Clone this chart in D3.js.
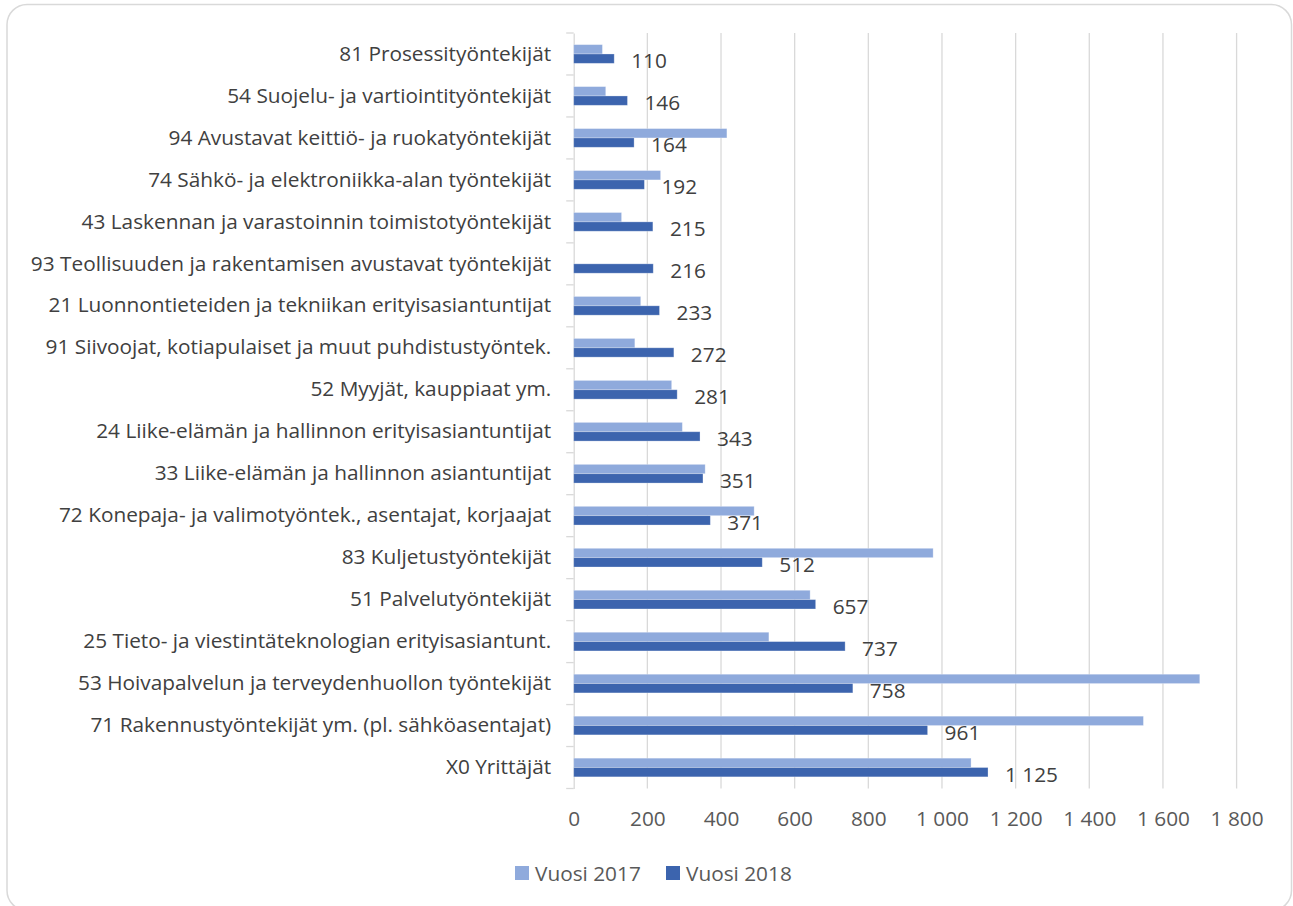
<!DOCTYPE html>
<html>
<head>
<meta charset="utf-8">
<script src="https://cdn.jsdelivr.net/npm/d3@7/dist/d3.min.js"></script>
<style>
  html, body { margin: 0; padding: 0; background: #fff; }
  svg { display: block; }
  text { font-family: "Open Sans", "Noto Sans", sans-serif; }
</style>
</head>
<body>
<svg id="chart" width="1293" height="906"></svg>
<script>
const categories = [
  "81 Prosessityöntekijät",
  "54 Suojelu- ja vartiointityöntekijät",
  "94 Avustavat keittiö- ja ruokatyöntekijät",
  "74 Sähkö- ja elektroniikka-alan työntekijät",
  "43 Laskennan ja varastoinnin toimistotyöntekijät",
  "93 Teollisuuden ja rakentamisen avustavat työntekijät",
  "21 Luonnontieteiden ja tekniikan erityisasiantuntijat",
  "91 Siivoojat, kotiapulaiset ja muut puhdistustyöntek.",
  "52 Myyjät, kauppiaat ym.",
  "24 Liike-elämän ja hallinnon erityisasiantuntijat",
  "33 Liike-elämän ja hallinnon asiantuntijat",
  "72 Konepaja- ja valimotyöntek., asentajat, korjaajat",
  "83 Kuljetustyöntekijät",
  "51 Palvelutyöntekijät",
  "25 Tieto- ja viestintäteknologian erityisasiantunt.",
  "53 Hoivapalvelun ja terveydenhuollon työntekijät",
  "71 Rakennustyöntekijät ym. (pl. sähköasentajat)",
  "X0 Yrittäjät"
];
const values2017 = [78, 87, 416, 236, 130, 0, 182, 166, 266, 295, 357, 490, 976, 642, 530, 1700, 1547, 1079];
const values2018 = [110, 146, 164, 192, 215, 216, 233, 272, 281, 343, 351, 371, 512, 657, 737, 758, 961, 1125];
const seriesNames = ["Vuosi 2017", "Vuosi 2018"];
const xTicks = [0, 200, 400, 600, 800, 1000, 1200, 1400, 1600, 1800];

const colors = { "Vuosi 2017": "#8FAADC", "Vuosi 2018": "#3C64AE" };

const fi = d3.formatLocale({ decimal: ",", thousands: " ", grouping: [3], currency: ["", " €"] });
const fmt = fi.format(",d");

const svg = d3.select("#chart");
const FS = "20.8px";

// outer border
svg.append("rect")
  .attr("x", 7).attr("y", 4.5)
  .attr("width", 1284.5).attr("height", 906)
  .attr("rx", 20).attr("ry", 20)
  .attr("fill", "#fff")
  .attr("stroke", "#D9D9D9").attr("stroke-width", 1.5);

const plot = { left: 573.7, right: 1236.6, top: 33, bottom: 788.5 };

const x = d3.scaleLinear().domain([0, 1800]).range([plot.left, plot.right]);
const y = d3.scaleBand().domain(categories).range([plot.top, plot.bottom]).paddingInner(0).paddingOuter(0);
const bw = y.bandwidth();
const barH = 9.35;
const ySub = d3.scaleBand().domain(seriesNames)
  .range([bw / 2 - barH, bw / 2 + barH]).padding(0);

// gridlines
svg.append("g")
  .selectAll("line")
  .data(xTicks.filter(d => d > 0))
  .join("line")
  .attr("x1", d => x(d)).attr("x2", d => x(d))
  .attr("y1", plot.top).attr("y2", plot.bottom)
  .attr("stroke", "#D9D9D9").attr("stroke-width", 1.3);

// x axis labels
const xAxis = d3.axisBottom(x).tickValues(xTicks).tickFormat(fmt).tickSize(0).tickPadding(0);
const gx = svg.append("g").attr("transform", `translate(0,818)`).call(xAxis);
gx.select(".domain").remove();
gx.selectAll("text")
  .attr("y", 0)
  .attr("dy", null)
  .attr("dominant-baseline", "central")
  .attr("fill", "#595959")
  .style("font-size", FS);

// category axis
const yAxis = d3.axisLeft(y).tickSize(0).tickPadding(22.5);
const gy = svg.append("g").attr("transform", `translate(${plot.left},0)`).call(yAxis);
gy.select(".domain").attr("stroke", "#D9D9D9").attr("stroke-width", 1.3);
gy.selectAll("text")
  .attr("fill", "#404040")
  .style("font-size", FS);

// tick marks at band boundaries
const bounds = categories.map(c => y(c)).concat([plot.bottom]);
svg.append("g").selectAll("line").data(bounds).join("line")
  .attr("x1", plot.left - 7.5).attr("x2", plot.left)
  .attr("y1", d => d).attr("y2", d => d)
  .attr("stroke", "#D9D9D9").attr("stroke-width", 1.3);

// bars
const rows = categories.map((c, i) => ({ cat: c, v2017: values2017[i], v2018: values2018[i] }));
const series = [
  { name: "Vuosi 2017", key: "v2017" },
  { name: "Vuosi 2018", key: "v2018" }
];
series.forEach(s => {
  svg.append("g").selectAll("rect")
    .data(rows.filter(r => r[s.key] > 0))
    .join("rect")
    .attr("x", x(0))
    .attr("y", r => y(r.cat) + ySub(s.name))
    .attr("width", r => x(r[s.key]) - x(0))
    .attr("height", ySub.bandwidth())
    .attr("fill", colors[s.name])
    .attr("stroke", "#ffffff").attr("stroke-opacity", 0.35).attr("stroke-width", 0.8);
});

// data labels for 2018
svg.append("g").selectAll("text")
  .data(rows)
  .join("text")
  .attr("x", r => x(r.v2018) + 17)
  .attr("y", r => y(r.cat) + ySub("Vuosi 2018") + ySub.bandwidth() / 2 + 1.5)
  .attr("dominant-baseline", "central")
  .attr("fill", "#404040")
  .style("font-size", FS)
  .text(r => fmt(r.v2018));

// legend
const legendItems = [
  { name: "Vuosi 2017", sx: 515, tx: 535 },
  { name: "Vuosi 2018", sx: 666, tx: 686 }
];
const lg = svg.append("g");
legendItems.forEach(it => {
  lg.append("rect").attr("x", it.sx).attr("y", 866).attr("width", 14).attr("height", 14)
    .attr("fill", colors[it.name]);
  lg.append("text").attr("x", it.tx).attr("y", 873)
    .attr("dominant-baseline", "central")
    .attr("fill", "#595959")
    .style("font-size", FS)
    .text(it.name);
});
</script>
</body>
</html>
